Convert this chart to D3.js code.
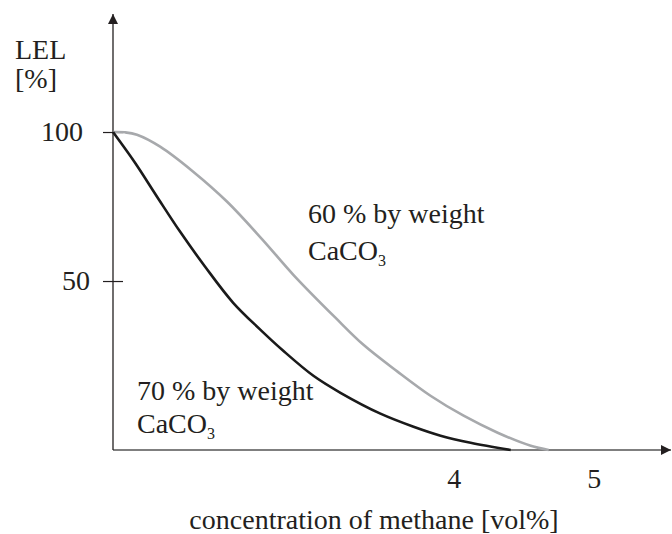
<!DOCTYPE html>
<html>
<head>
  <meta charset="utf-8">
  <script src="https://d3js.org/d3.v7.min.js"></script>
  <style>
    body { margin: 0; background: #fff; }
  </style>
</head>
<body>
<script>
// chart values
var xTicks = [4, 5];
var yTicks = [50, 100];

// 70 % by weight CaCO3 (black)
var black = [
  [1.571, 100], [1.728, 89.7], [1.885, 78.3], [2.05, 66.5], [2.228, 54.8],
  [2.428, 42.7], [2.621, 33.7], [2.785, 26.6], [3.0, 18.2], [3.193, 12.5],
  [3.478, 5.5], [3.714, 1.1], [3.907, -1.9], [4.121, -4.3], [4.407, -6.7]
];
// 60 % by weight CaCO3 (grey)
var grey = [
  [1.571, 100], [1.657, 99.9], [1.742, 99.1], [1.907, 95.1], [2.143, 86.7],
  [2.385, 76.6], [2.635, 64.0], [2.857, 52.1], [3.157, 37.7], [3.357, 28.6],
  [3.6, 19.6], [3.835, 11.5], [4.071, 4.8], [4.314, -0.9], [4.55, -5.3], [4.678, -6.7]
];

var width = 672, height = 534;
var x0 = 113, xEnd = 671, y0 = 450, yTop = 14;
var serif = "'Liberation Serif', 'Times New Roman', Tinos, monospace";
var ink = "#231f20";
var fs = "28px";

var svg = d3.select("body").append("svg")
  .attr("width", width)
  .attr("height", height);

var x = d3.scaleLinear().domain([1.571, 5.55]).range([x0, xEnd]);
var y = d3.scaleLinear().domain([-6.7, 139.6]).range([y0, yTop]);

// arrow heads
svg.append("defs").append("marker")
  .attr("id", "arrow")
  .attr("viewBox", "0 0 10 10")
  .attr("refX", 10).attr("refY", 5)
  .attr("markerWidth", 10).attr("markerHeight", 10)
  .attr("markerUnits", "userSpaceOnUse")
  .attr("orient", "auto")
  .append("path")
  .attr("d", "M0,0 L10,5 L0,10 Z")
  .attr("fill", ink);

// axis lines
svg.append("line")
  .attr("x1", x0).attr("y1", y0)
  .attr("x2", xEnd).attr("y2", y0)
  .attr("stroke", "#555").attr("stroke-width", 1.5)
  .attr("marker-end", "url(#arrow)");
svg.append("line")
  .attr("x1", x0).attr("y1", y0)
  .attr("x2", x0).attr("y2", yTop)
  .attr("stroke", ink).attr("stroke-width", 1.3)
  .attr("marker-end", "url(#arrow)");

// y axis ticks
var yAxis = svg.append("g")
  .attr("transform", "translate(" + x0 + ",0)")
  .call(d3.axisLeft(y).tickValues(yTicks).tickSize(10).tickPadding(20).tickFormat(d3.format("d")));
yAxis.attr("font-family", null);
yAxis.select(".domain").remove();
yAxis.selectAll(".tick line")
  .attr("x1", -10).attr("x2", 10)
  .attr("stroke", ink).attr("stroke-width", 1.2);
yAxis.selectAll(".tick text")
  .style("font-family", serif)
  .style("font-size", fs)
  .attr("fill", ink)
  .attr("x", function(d) { return d === 100 ? -30 : -23; });

// x axis ticks (labels only)
var xAxis = svg.append("g")
  .attr("transform", "translate(0," + y0 + ")")
  .call(d3.axisBottom(x).tickValues(xTicks).tickSize(0).tickPadding(18).tickFormat(d3.format("d")));
xAxis.attr("font-family", null);
xAxis.select(".domain").remove();
xAxis.selectAll(".tick text")
  .style("font-family", serif)
  .style("font-size", fs)
  .attr("fill", ink);

// curves
var line = d3.line()
  .x(function(d) { return x(d[0]); })
  .y(function(d) { return y(d[1]); })
  .curve(d3.curveCatmullRom);

svg.append("path")
  .datum(grey)
  .attr("d", line)
  .attr("fill", "none")
  .attr("stroke", "#a7a9ac")
  .attr("stroke-width", 2.6);

svg.append("path")
  .datum(black)
  .attr("d", line)
  .attr("fill", "none")
  .attr("stroke", "#1a1a1a")
  .attr("stroke-width", 2.6);

function label(px, py, s, anchor) {
  return svg.append("text").attr("x", px).attr("y", py)
    .attr("text-anchor", anchor || "start")
    .attr("fill", ink)
    .style("font-family", serif)
    .style("font-size", fs)
    .text(s);
}

// axis titles
label(15, 59, "LEL");
label(15, 88, "[%]");
label(374, 529, "concentration of methane [vol%]", "middle");

// series labels
function seriesLabel(px, py, gap, pct) {
  label(px, py, pct + " % by weight");
  label(px, py + gap, "CaCO")
    .append("tspan").attr("dy", 6).style("font-size", "16px").text("3");
}
seriesLabel(308, 223, 37, "60");
seriesLabel(137, 400, 33, "70");
</script>
</body>
</html>
